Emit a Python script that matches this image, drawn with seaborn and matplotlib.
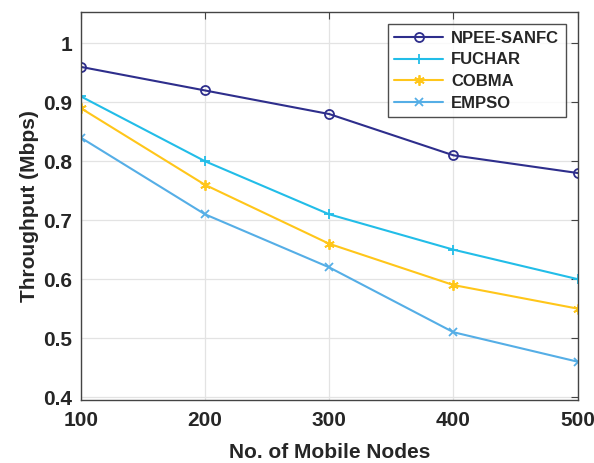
import matplotlib
matplotlib.use("Agg")
import matplotlib.pyplot as plt
import seaborn as sns
import pandas as pd

nodes = [100, 200, 300, 400, 500]
npee_sanfc = [0.96, 0.92, 0.88, 0.81, 0.78]
fuchar = [0.91, 0.80, 0.71, 0.65, 0.60]
cobma = [0.89, 0.76, 0.66, 0.59, 0.55]
empso = [0.84, 0.71, 0.62, 0.51, 0.46]
series_names = ["NPEE-SANFC", "FUCHAR", "COBMA", "EMPSO"]
yticks = [0.4, 0.5, 0.6, 0.7, 0.8, 0.9, 1.0]
ytick_labels = ["0.4", "0.5", "0.6", "0.7", "0.8", "0.9", "1"]

sns.set_style("white")
plt.rcParams['font.family'] = ['Liberation Sans', 'DejaVu Sans']
plt.rcParams['font.weight'] = 'bold'

df = pd.DataFrame({
    "nodes": nodes * 4,
    "value": npee_sanfc + fuchar + cobma + empso,
    "series": sum([[n] * len(nodes) for n in series_names], []),
})

colors = {"NPEE-SANFC": "#2e2e8c", "FUCHAR": "#22bde8", "COBMA": "#ffc61a", "EMPSO": "#55aee6"}
markers = {"NPEE-SANFC": "o", "FUCHAR": "+", "COBMA": (6, 2, 0), "EMPSO": "x"}
msizes = {"NPEE-SANFC": 6.5, "FUCHAR": 7, "COBMA": 7.5, "EMPSO": 6}

fig = plt.figure(figsize=(5.94, 4.63), dpi=100)
ax = fig.add_axes([0.136, 0.136, 0.8365, 0.838])

for name in series_names:
    sub = df[df.series == name]
    sns.lineplot(data=sub, x="nodes", y="value", ax=ax, color=colors[name],
                 marker=markers[name], markersize=msizes[name],
                 markerfacecolor="none" if name == "NPEE-SANFC" else colors[name],
                 markeredgecolor=colors[name], markeredgewidth=1.3,
                 linewidth=1.5, label=name)

ax.set_xlim(100, 500)
ax.set_ylim(0.395, 1.053)
ax.set_xticks(nodes)
ax.set_xticklabels([str(n) for n in nodes])
ax.set_yticks(yticks)
ax.set_yticklabels(ytick_labels)
ax.grid(True, color="#e3e3e3", linewidth=0.9)
ax.tick_params(axis="both", direction="in", length=5, labelsize=15, top=True, right=True,
               color="#444444")
ax.tick_params(axis="x", pad=8)
ax.tick_params(axis="y", pad=6)
for lab in ax.get_xticklabels() + ax.get_yticklabels():
    lab.set_fontweight("bold")
for sp in ax.spines.values():
    sp.set_color("#444444")
    sp.set_linewidth(1.0)

ax.set_xlabel("No. of Mobile Nodes", fontsize=15, fontweight="bold", labelpad=9)
ax.set_ylabel("Throughput (Mbps)", fontsize=15, fontweight="bold", labelpad=3)

leg = ax.legend(loc="upper right", bbox_to_anchor=(0.976, 0.969), fontsize=12,
                frameon=True, fancybox=False, handlelength=2.9, borderpad=0.4,
                labelspacing=0.4, handletextpad=0.5, borderaxespad=0)
leg.get_frame().set_edgecolor("#222222")
leg.get_frame().set_linewidth(1.0)
for t in leg.get_texts():
    t.set_fontweight("bold")

fig.savefig("out.png", dpi=100, facecolor="white")
